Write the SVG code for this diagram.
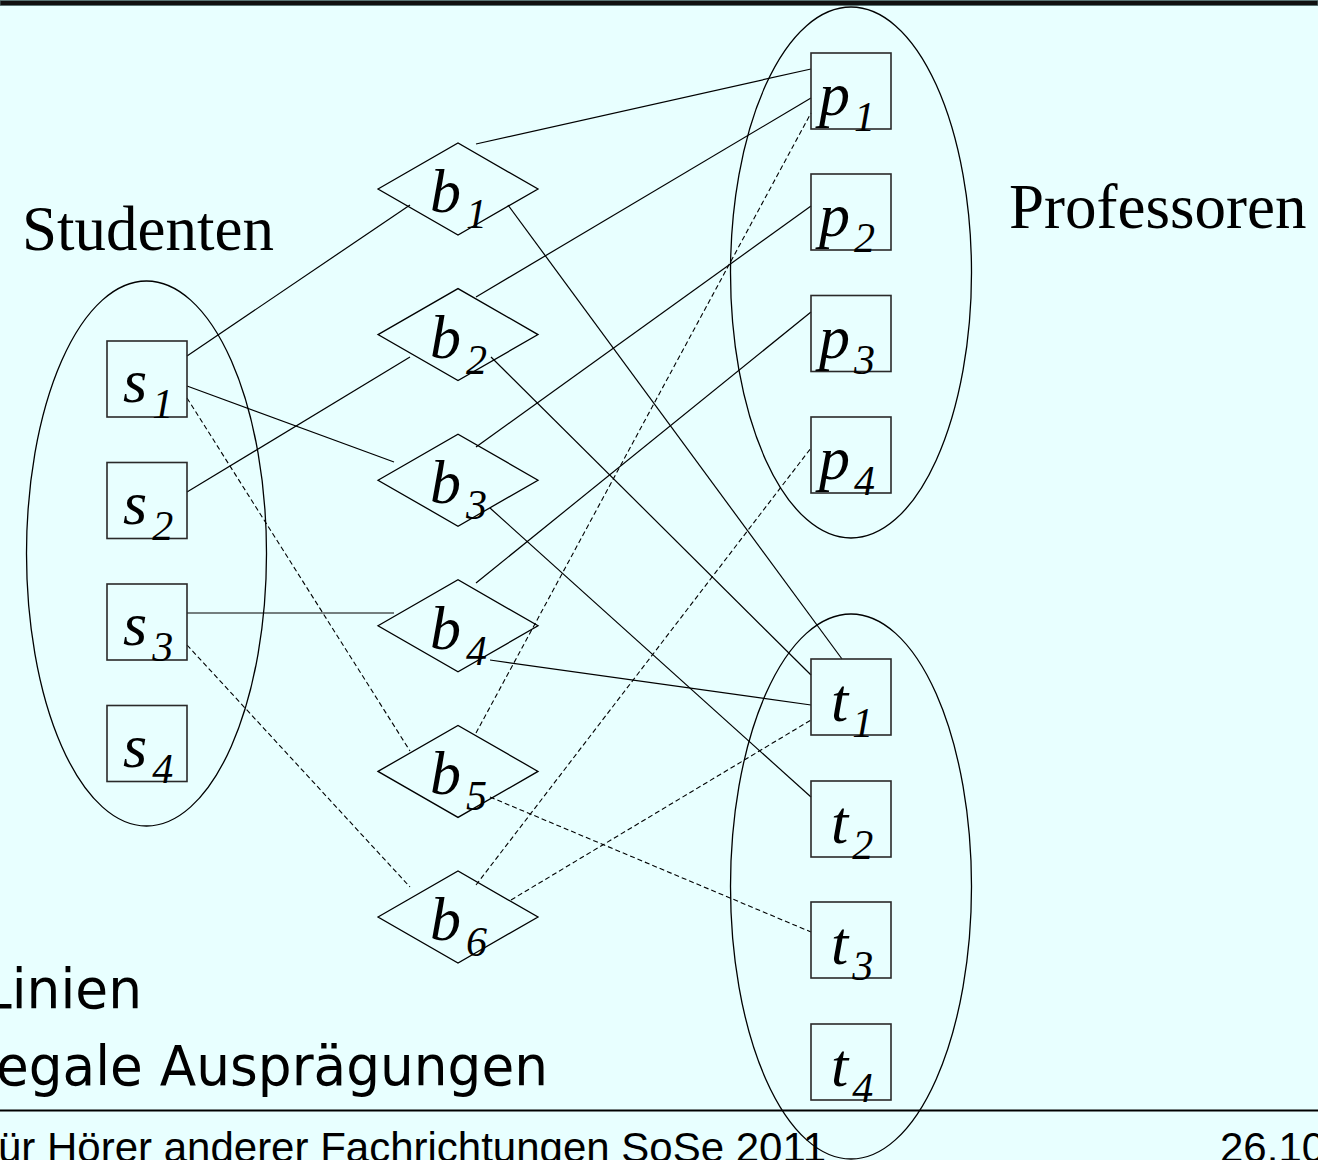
<svg xmlns="http://www.w3.org/2000/svg" width="1318" height="1160" viewBox="0 0 1318 1160">
<style>
.box{fill:none;stroke:#2a2a2a;stroke-width:1.6}
.dia{fill:none;stroke:#000;stroke-width:1.3}
.ell{fill:none;stroke:#000;stroke-width:1.3}
.ln{stroke:#000;stroke-width:1.2;fill:none}
.dash{stroke:#000;stroke-width:1.1;fill:none;stroke-dasharray:5 3}
.lbl{font-family:"Liberation Serif","Times New Roman",serif;font-style:italic;font-size:62px;fill:#000}
.sub{font-size:42px}
.title{font-family:"Liberation Serif","Times New Roman",serif;font-size:63px;fill:#000}
.note{font-family:"DejaVu Sans",sans-serif;font-size:55px;fill:#000}
.foot{font-family:"Liberation Sans",Arial,sans-serif;font-size:42px;fill:#000}
</style>
<rect x="0" y="0" width="1318" height="1160" fill="#E8FFFF"/>
<rect x="0" y="0.5" width="1318" height="5" fill="#111" stroke="#5a7474" stroke-width="1"/>
<line x1="0" y1="1110.5" x2="1318" y2="1110.5" stroke="#000" stroke-width="2"/>

<g id="clusters">
<ellipse id="cluster-studenten" class="ell" cx="146.5" cy="553.5" rx="120" ry="272.5"/>
<ellipse id="cluster-professoren" class="ell" cx="851" cy="272.5" rx="120.5" ry="265.5"/>
<ellipse id="cluster-t" class="ell" cx="851" cy="886.5" rx="120.5" ry="272.5"/>
</g>

<g id="connectors">
<line class="ln" x1="476" y1="144" x2="811" y2="69"/>
<line class="ln" x1="187" y1="356" x2="410" y2="205"/>
<line class="ln" x1="508" y1="205" x2="842" y2="659"/>
<line class="ln" x1="476" y1="297" x2="811" y2="98"/>
<line class="ln" x1="187" y1="492" x2="410" y2="357"/>
<line class="ln" x1="491" y1="357" x2="811" y2="675"/>
<line class="ln" x1="187" y1="386" x2="394" y2="462"/>
<line class="ln" x1="476" y1="447" x2="811" y2="206"/>
<line class="ln" x1="490" y1="508" x2="811" y2="797"/>
<line class="ln" x1="187" y1="613" x2="394" y2="613" stroke-width="2"/>
<line class="ln" x1="476" y1="583" x2="811" y2="312"/>
<line class="ln" x1="490" y1="660" x2="811" y2="705"/>
<line class="dash" x1="187" y1="398" x2="410" y2="751"/>
<line class="dash" x1="476" y1="733" x2="811" y2="113"/>
<line class="dash" x1="490" y1="797" x2="811" y2="932"/>
<line class="dash" x1="187" y1="645" x2="410" y2="887"/>
<line class="dash" x1="476" y1="885" x2="811" y2="448"/>
<line class="dash" x1="511" y1="900" x2="811" y2="720"/>
</g>

<g id="s1"><rect class="box" x="107" y="341" width="80" height="76"/><text class="lbl" x="123" y="402">s<tspan class="sub" dx="5" dy="16">1</tspan></text></g>
<g id="s2"><rect class="box" x="107" y="462.5" width="80" height="76"/><text class="lbl" x="123" y="523.5">s<tspan class="sub" dx="5" dy="16">2</tspan></text></g>
<g id="s3"><rect class="box" x="107" y="584" width="80" height="76"/><text class="lbl" x="123" y="645">s<tspan class="sub" dx="5" dy="16">3</tspan></text></g>
<g id="s4"><rect class="box" x="107" y="705.5" width="80" height="76"/><text class="lbl" x="123" y="766.5">s<tspan class="sub" dx="5" dy="16">4</tspan></text></g>

<g id="p1"><rect class="box" x="811" y="53" width="80" height="76"/><text class="lbl" x="819" y="115">p<tspan class="sub" dx="4" dy="16">1</tspan></text></g>
<g id="p2"><rect class="box" x="811" y="174" width="80" height="76"/><text class="lbl" x="819" y="236">p<tspan class="sub" dx="4" dy="16">2</tspan></text></g>
<g id="p3"><rect class="box" x="811" y="295.5" width="80" height="76"/><text class="lbl" x="819" y="357.5">p<tspan class="sub" dx="4" dy="16">3</tspan></text></g>
<g id="p4"><rect class="box" x="811" y="417" width="80" height="76"/><text class="lbl" x="819" y="479">p<tspan class="sub" dx="4" dy="16">4</tspan></text></g>

<g id="t1"><rect class="box" x="811" y="659" width="80" height="76"/><text class="lbl" x="831" y="721">t<tspan class="sub" dx="4" dy="16">1</tspan></text></g>
<g id="t2"><rect class="box" x="811" y="781" width="80" height="76"/><text class="lbl" x="831" y="843">t<tspan class="sub" dx="4" dy="16">2</tspan></text></g>
<g id="t3"><rect class="box" x="811" y="902" width="80" height="76"/><text class="lbl" x="831" y="964">t<tspan class="sub" dx="4" dy="16">3</tspan></text></g>
<g id="t4"><rect class="box" x="811" y="1024" width="80" height="76"/><text class="lbl" x="831" y="1086">t<tspan class="sub" dx="4" dy="16">4</tspan></text></g>

<g id="b1"><polygon class="dia" points="378,189 458,143 538,189 458,235"/><text class="lbl" x="430" y="212">b<tspan class="sub" dx="5" dy="16">1</tspan></text></g>
<g id="b2"><polygon class="dia" points="378,334.6 458,288.6 538,334.6 458,380.6"/><text class="lbl" x="430" y="357.6">b<tspan class="sub" dx="5" dy="16">2</tspan></text></g>
<g id="b3"><polygon class="dia" points="378,480.2 458,434.2 538,480.2 458,526.2"/><text class="lbl" x="430" y="503.2">b<tspan class="sub" dx="5" dy="16">3</tspan></text></g>
<g id="b4"><polygon class="dia" points="378,625.8 458,579.8 538,625.8 458,671.8"/><text class="lbl" x="430" y="648.8">b<tspan class="sub" dx="5" dy="16">4</tspan></text></g>
<g id="b5"><polygon class="dia" points="378,771.4 458,725.4 538,771.4 458,817.4"/><text class="lbl" x="430" y="794.4">b<tspan class="sub" dx="5" dy="16">5</tspan></text></g>
<g id="b6"><polygon class="dia" points="378,917 458,871 538,917 458,963"/><text class="lbl" x="430" y="940">b<tspan class="sub" dx="5" dy="16">6</tspan></text></g>

<text class="title" x="22" y="250">Studenten</text>
<text class="title" x="1009" y="228">Professoren</text>
<text class="note" x="-18" y="1008" textLength="160" lengthAdjust="spacingAndGlyphs">Linien</text>
<text class="note" x="-4" y="1085" textLength="552" lengthAdjust="spacingAndGlyphs">egale Ausprägungen</text>
<text class="foot" x="-2" y="1162">ür Hörer anderer Fachrichtungen SoSe 2011</text>
<text class="foot" x="1220" y="1162">26.10</text>
</svg>
